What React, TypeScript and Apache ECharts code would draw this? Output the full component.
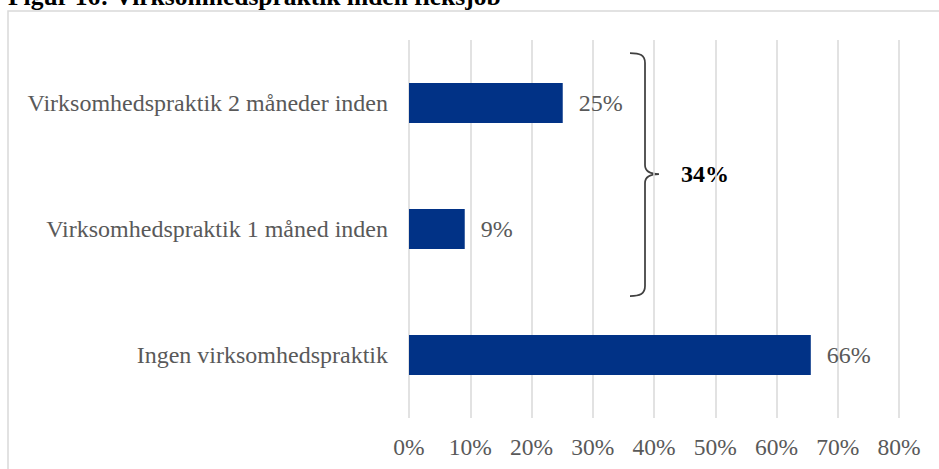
import React, { useEffect, useRef } from "react";
import * as echarts from "echarts";

const title = "Figur 16: Virksomhedspraktik inden fleksjob";
const categories = [
  "Virksomhedspraktik 2 måneder inden",
  "Virksomhedspraktik 1 måned inden",
  "Ingen virksomhedspraktik",
];
const values = [25.1, 9.1, 65.6];
const tickValues = [0, 10, 20, 30, 40, 50, 60, 70, 80];
const groupedIdx = [0, 1];

const FONT = "'Liberation Serif', 'Times New Roman', serif";
const GREY = "#595959";
const BAR = "#013286";

const bracePath =
  "M630,53 C640,53 645,55 645,63 L645,165 C645,171 650,174 659,174 C650,174 645,177 645,183 L645,286 C645,294 640,296 630,296";

let registered = false;

export default function App() {
  const ref = useRef<HTMLDivElement>(null);
  useEffect(() => {
    if (!registered) {
      echarts.graphic.registerShape("brace", echarts.graphic.extendPath(bracePath, {}));
      registered = true;
    }
    const chart = echarts.init(ref.current!, null, { renderer: "svg" });
    const sum = groupedIdx.reduce((a, i) => a + values[i], 0);
    chart.setOption({
      animation: false,
      backgroundColor: "#ffffff",
      grid: { left: 409, right: 40, top: 40, bottom: 51, containLabel: false },
      xAxis: {
        type: "value",
        min: tickValues[0],
        max: tickValues[tickValues.length - 1],
        interval: 10,
        axisLine: { show: false },
        axisTick: { show: false },
        splitLine: { show: true, lineStyle: { color: "#d9d9d9", width: 1.5 } },
        axisLabel: {
          formatter: (v: number) => `${v}%`,
          color: GREY,
          fontFamily: FONT,
          fontSize: 23.5,
          margin: 17,
        },
      },
      yAxis: {
        type: "category",
        inverse: true,
        data: categories,
        axisLine: { show: false },
        axisTick: { show: false },
        axisLabel: { color: GREY, fontFamily: FONT, fontSize: 24, margin: 21 },
      },
      series: [
        {
          type: "bar",
          data: values,
          barWidth: 40,
          itemStyle: { color: BAR },
          label: {
            show: true,
            position: "right",
            distance: 16,
            formatter: (p: any) => `${Math.round(p.value)}%`,
            color: GREY,
            fontFamily: FONT,
            fontSize: 24,
          },
        },
      ],
      graphic: [
        {
          type: "rect",
          shape: { x: 8, y: 11, width: 1000, height: 1000 },
          style: { fill: "none", stroke: "#d9d9d9", lineWidth: 1.5 },
          silent: true,
          z: -1,
        },
        {
          type: "text",
          x: 8,
          y: -3.5,
          style: {
            text: title,
            fontFamily: FONT,
            fontSize: 25.5,
            fontWeight: "bold",
            fill: "#000000",
            verticalAlign: "middle",
            align: "left",
          },
        },
        {
          type: "brace",
          x: 0,
          y: 0,
          style: { fill: "none", stroke: "#404040", lineWidth: 1.75 },
        },
        {
          type: "text",
          x: 681,
          y: 174,
          style: {
            text: `${Math.round(sum)}%`,
            fontFamily: FONT,
            fontSize: 24,
            fontWeight: "bold",
            fill: "#000000",
            verticalAlign: "middle",
            align: "left",
          },
        },
      ],
    });
    return () => chart.dispose();
  }, []);
  return (
    <div
      ref={ref}
      style={{ position: "absolute", left: 0, top: 0, width: 939, height: 469 }}
    />
  );
}
